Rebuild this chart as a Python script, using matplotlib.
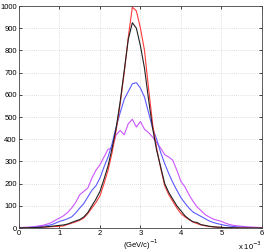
import numpy as np
import matplotlib
matplotlib.use("Agg")
import matplotlib.pyplot as plt

plt.rcParams['font.family'] = 'Liberation Sans'

# inverse momentum bins, in units of 1e-3 (GeV/c)^-1
x = np.round(np.arange(0, 6.01, 0.1), 1)

red = [0, 0, 1, 1, 2, 3, 4, 5, 6, 7,
       8, 10, 16, 22, 28, 35, 45, 65, 90, 115,
       145, 200, 260, 340, 440, 560, 700, 860, 995, 978,
       900, 800, 630, 470, 360, 270, 190, 150, 120, 90,
       65, 50, 38, 27, 20, 14, 10, 7, 5, 4,
       3, 2, 2, 1, 1, 1, 0, 0, 0, 0, 0]
black = [0, 1, 1, 2, 2, 3, 4, 6, 8, 10,
         12, 14, 18, 25, 32, 38, 50, 70, 100, 130,
         165, 220, 280, 360, 450, 570, 710, 850, 925, 900,
         820, 720, 580, 450, 350, 275, 200, 160, 130, 100,
         78, 55, 40, 28, 25, 15, 12, 8, 6, 4,
         3, 2, 2, 1, 1, 0, 0, 0, 0, 0, 0]
blue = [1, 2, 2, 3, 4, 6, 8, 11, 15, 22,
        30, 35, 42, 50, 68, 90, 110, 140, 170, 190,
        225, 275, 320, 380, 455, 520, 580, 615, 650, 655,
        630, 590, 520, 450, 400, 340, 290, 245, 205, 170,
        137, 112, 90, 72, 62, 52, 42, 32, 25, 20,
        16, 12, 9, 7, 5, 4, 3, 2, 1, 1, 0]
magenta = [2, 3, 4, 5, 7, 10, 13, 18, 25, 35,
           45, 55, 70, 90, 115, 150, 165, 180, 225, 260,
           285, 320, 355, 360, 420, 440, 420, 470, 490, 455,
           480, 445, 430, 410, 385, 360, 330, 320, 305, 260,
           210, 185, 150, 120, 95, 78, 60, 50, 40, 35,
           30, 22, 16, 12, 10, 8, 6, 5, 4, 3, 2]

fig = plt.figure(figsize=(2.67, 2.52), dpi=100)
ax = fig.add_axes([0.071, 0.095, 0.910, 0.881])

lw = 0.8
ax.plot(x, magenta, color='#cc55ff', lw=lw)
ax.plot(x, blue, color='#5a5aff', lw=lw)
ax.plot(x, red, color='#ff3a3a', lw=lw)
ax.plot(x, black, color='#222222', lw=lw)

ax.set_xlim(0, 6)
ax.set_ylim(0, 1000)
ax.set_xticks(range(0, 7))
ax.set_yticks(range(0, 1001, 100))
ax.grid(True, linestyle=(0, (1, 2)), color='#c0c0c0', linewidth=0.5)
ax.tick_params(direction='in', labelsize=5.5, length=2.5, width=0.5, pad=1.5,
               top=True, right=True)
for s in ax.spines.values():
    s.set_linewidth(0.6)
    s.set_color('#444444')

ax.set_xlabel('(GeV/c)$^{-1}$', fontsize=5.5, labelpad=0)
fig.text(0.982, 0.048, 'x 10$^{-3}$', fontsize=5.5, ha='right', va='top')

fig.savefig('out.png', dpi=100)
